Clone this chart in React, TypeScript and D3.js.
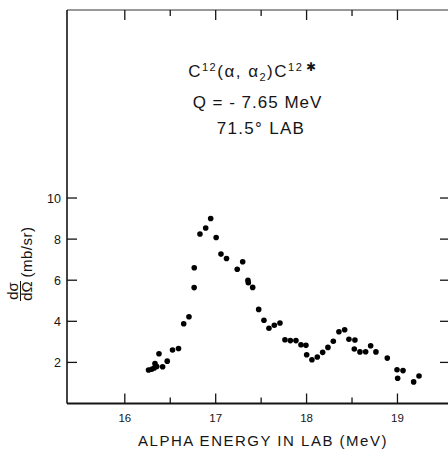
import React from "react";
import * as d3 from "d3";

// Alpha energy in lab (MeV)
const energy = [
  16.261, 16.296, 16.323, 16.332, 16.351, 16.376, 16.416, 16.467, 16.525, 16.591,
  16.648, 16.706, 16.763, 16.764, 16.827, 16.89, 16.945, 17.005, 17.058, 17.119,
  17.237, 17.297, 17.355, 17.359, 17.407, 17.473, 17.531, 17.586, 17.645, 17.707,
  17.762, 17.821, 17.883, 17.938, 17.993, 18.001, 18.059, 18.118, 18.177, 18.235,
  18.294, 18.356, 18.419, 18.466, 18.532, 18.525, 18.587, 18.65, 18.705, 18.763,
  18.888, 18.995, 19.002, 19.061, 19.178, 19.237,
];
// dσ/dΩ (mb/sr)
const sigma = [
  1.63, 1.67, 1.73, 1.95, 1.8, 2.42, 1.79, 2.06, 2.6, 2.68,
  3.88, 4.22, 5.64, 6.61, 8.25, 8.54, 9.0, 8.08, 7.27, 7.06,
  6.53, 6.9, 5.99, 5.88, 5.65, 4.58, 4.05, 3.66, 3.81, 3.92,
  3.1, 3.06, 3.06, 2.86, 2.83, 2.37, 2.13, 2.26, 2.49, 2.73,
  3.03, 3.49, 3.59, 3.13, 3.09, 2.65, 2.51, 2.52, 2.81, 2.51,
  2.21, 1.64, 1.23, 1.6, 1.05, 1.34,
];

const xMajor = [16, 17, 18, 19];
const xMinor = [16.5, 17.5, 18.5];
const xTickLabels = ["16", "17", "18", "19"];
const yMajor = [2, 4, 6, 8, 10];
const yTickLabels = ["2", "4", "6", "8", "10"];

const xDomain = [15.364, 19.567];
const yDomain = [0, 19.15];

export default function App() {
  const left = 67, right = 449, top = 10, bottom = 403.5;
  const x = d3.scaleLinear().domain(xDomain).range([left, right]);
  const y = d3.scaleLinear().domain(yDomain).range([bottom, top]);
  const ink = "#151515";
  const font = "'Liberation Sans', Arial, sans-serif";

  return (
    <svg
      width={448}
      height={450}
      style={{ position: "absolute", left: 0, top: 0, background: "#fff" }}
    >
      <rect x={0} y={0} width={448} height={450} fill="#fff" />
      {/* frame */}
      <line x1={left} x2={right + 2} y1={top} y2={top} stroke="#333" strokeWidth={1} />
      <line x1={left} x2={left} y1={top} y2={bottom} stroke={ink} strokeWidth={1.6} />
      <line x1={left} x2={right + 2} y1={bottom} y2={bottom} stroke={ink} strokeWidth={1.8} />

      {/* x ticks bottom & top */}
      {xMajor.map((v) => (
        <g key={"xm" + v}>
          <line x1={x(v)} x2={x(v)} y1={bottom} y2={bottom - 10} stroke={ink} strokeWidth={1.3} />
          <line x1={x(v)} x2={x(v)} y1={top} y2={top + 10} stroke={ink} strokeWidth={1.3} />
        </g>
      ))}
      {xMinor.map((v) => (
        <g key={"xn" + v}>
          <line x1={x(v)} x2={x(v)} y1={bottom} y2={bottom - 6} stroke={ink} strokeWidth={1.3} />
          <line x1={x(v)} x2={x(v)} y1={top} y2={top + 6} stroke={ink} strokeWidth={1.3} />
        </g>
      ))}
      {xMajor.map((v, i) => (
        <text
          key={"xl" + v}
          x={x(v)}
          y={422}
          textAnchor="middle"
          fontFamily={font}
          fontSize={11.5}
          fill={ink}
        >
          {xTickLabels[i]}
        </text>
      ))}

      {/* y ticks left & right */}
      {yMajor.map((v, i) => (
        <g key={"y" + v}>
          <line x1={left} x2={left + 10} y1={y(v)} y2={y(v)} stroke={ink} strokeWidth={1.3} />
          <line x1={440} x2={right} y1={y(v)} y2={y(v)} stroke={ink} strokeWidth={1.3} />
          <text
            x={61}
            y={y(v) + 4.5}
            textAnchor="end"
            fontFamily={font}
            fontSize={12.5}
            fill={ink}
          >
            {yTickLabels[i]}
          </text>
        </g>
      ))}

      {/* data */}
      {energy.map((e, i) => (
        <circle key={i} cx={x(e)} cy={y(sigma[i])} r={2.8} fill="#000" />
      ))}

      {/* annotation */}
      <g fontFamily={font} fill={ink} textAnchor="middle">
        <text x={253} y={77} fontSize={17} letterSpacing={1.5}>
          C
          <tspan dy={-6} fontSize={11}>12</tspan>
          <tspan dy={6}>(α, α</tspan>
          <tspan dy={4} fontSize={11}>2</tspan>
          <tspan dy={-4}>)C</tspan>
          <tspan dy={-6} fontSize={11}>12</tspan>
          <tspan dx={3} fontSize={12}>✱</tspan>
        </text>
        <text x={257.5} y={108} fontSize={17} letterSpacing={1}>
          Q = - 7.65 MeV
        </text>
        <text x={261} y={134} fontSize={17} letterSpacing={1.3}>
          71.5° LAB
        </text>
      </g>

      {/* x axis title */}
      <text
        x={263}
        y={446}
        textAnchor="middle"
        fontFamily={font}
        fontSize={15}
        letterSpacing={1.5}
        fill={ink}
      >
        ALPHA ENERGY IN LAB (MeV)
      </text>

      {/* y axis title */}
      <g transform="translate(32,266) rotate(-90)" fontFamily={font} fill={ink}>
        <text x={-25} y={-14} textAnchor="middle" fontSize={15}>dσ</text>
        <line x1={-35} x2={-15} y1={-11.5} y2={-11.5} stroke={ink} strokeWidth={1} />
        <text x={-25} y={0} textAnchor="middle" fontSize={15}>dΩ</text>
        <text x={14} y={0} textAnchor="middle" fontSize={15} letterSpacing={0.5}>(mb/sr)</text>
      </g>
    </svg>
  );
}
